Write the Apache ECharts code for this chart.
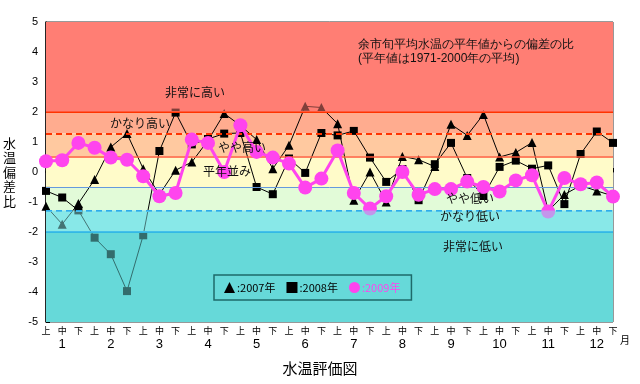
<!DOCTYPE html>
<html><head><meta charset="utf-8">
<script src="https://cdn.jsdelivr.net/npm/echarts@6/dist/echarts.min.js"></script>
<style>html,body{margin:0;padding:0;background:#fff}#c{width:640px;height:384px}</style>
</head><body><div id="c"></div>
<script>
var decades = ['上','中','下'];
var months = ['1','2','3','4','5','6','7','8','9','10','11','12'];
var categories = [];
months.forEach(function(m){ decades.forEach(function(d){ categories.push(m + d); }); });

var values2007 = [-1.14,-1.74,-1.05,-0.25,0.83,1.28,0.11,-0.75,0.06,0.33,1.05,1.95,1.55,1.08,0.11,0.89,2.19,2.15,1.61,-0.94,0.0,-1.0,0.52,0.41,0.18,1.59,1.22,1.92,0.5,0.65,0.98,-1.3,-0.75,-0.45,-0.63,-0.8];
var values2008 = [-0.63,-0.85,-1.28,-2.19,-2.74,-3.97,-2.11,0.7,1.98,0.92,1.1,1.28,1.3,-0.5,-0.74,0.45,-0.03,1.3,1.22,1.37,0.48,-0.33,0.1,-0.94,0.26,0.97,-0.2,-0.8,0.17,0.38,0.11,0.22,-1.07,0.6,1.35,0.97];
var values2009 = [0.36,0.39,0.97,0.81,0.48,0.41,-0.14,-0.81,-0.7,1.08,0.97,0.0,1.56,0.67,0.48,0.28,-0.52,-0.22,0.72,-0.7,-1.22,-0.81,0.0,-0.76,-0.57,-0.57,-0.32,-0.5,-0.65,-0.28,-0.11,-1.32,-0.2,-0.41,-0.35,-0.82];

var seriesNames = ['2007年','2008年','2009年'];
var thresholds = [5, 2, 1.28, 0.52, -0.52, -1.28, -2, -5];
var bandColors = ['#FF7E74','#FFAC8F','#FFC9A0','#FFFBC9','#E2FBD8','#88E8E8','#66D9D9'];
var bandNames = ['非常に高い','かなり高い','やや高い','平年並み','やや低い','かなり低い','非常に低い'];
var overlayIdx = [0, 5, 6];

var F = '"Noto Sans CJK JP", "Noto Sans", sans-serif';

var bandAreas = [];
for (var i = 0; i < bandColors.length; i++) {
  bandAreas.push([{yAxis: thresholds[i + 1], itemStyle: {color: bandColors[i]}}, {yAxis: thresholds[i]}]);
}
var overlayData = overlayIdx.map(function(k){ return [thresholds[k + 1], thresholds[k], k]; });

var lineDefs = [
  {v: thresholds[1], c: '#FF3300', t: 'solid', w: 2},
  {v: thresholds[2], c: '#FF3300', t: [6, 4], w: 2},
  {v: thresholds[3], c: '#FF5A3C', t: 'solid', w: 1.5},
  {v: thresholds[4], c: '#6699DD', t: 'solid', w: 1},
  {v: thresholds[5], c: '#1199EE', t: [6, 4], w: 2},
  {v: thresholds[6], c: '#0099EE', t: 'solid', w: 2}
];
var markLines = lineDefs.map(function(d){
  return {yAxis: d.v, lineStyle: {color: d.c, type: d.t, width: d.w}};
});

var nulls = categories.map(function(){ return null; });

var chart = echarts.init(document.getElementById('c'), null, {renderer: 'canvas'});
chart.setOption({
  animation: false,
  backgroundColor: '#fff',
  textStyle: {fontFamily: F},
  title: {text: '水温評価図', left: 'center', top: 356, textStyle: {fontSize: 15, fontWeight: 'normal', color: '#000', fontFamily: F}},
  grid: {left: 42, right: 27, top: 22, bottom: 62, show: true, borderColor: '#333', borderWidth: 1},
  xAxis: {
    type: 'category', data: categories, boundaryGap: false,
    axisLine: {lineStyle: {color: '#000', width: 1.5}},
    axisTick: {inside: true, length: 4, interval: 0, lineStyle: {color: '#000'}},
    axisLabel: {
      interval: 0, margin: 3, color: '#000',
      formatter: function(v, idx){
        var d = decades[idx % 3];
        var m = (idx % 3 === 1) ? months[Math.floor(idx / 3)] : ' ';
        return '{s|' + d + '}\n{m|' + m + '}';
      },
      rich: {s: {fontSize: 9, lineHeight: 11, fontFamily: F, color: '#000'}, m: {fontSize: 13, lineHeight: 16, fontFamily: 'Liberation Sans, Arial', color: '#000'}}
    },
    splitLine: {show: false}
  },
  yAxis: {
    type: 'value', min: -5, max: 5, interval: 1,
    name: '水\n温\n偏\n差\n比', nameLocation: 'middle', nameGap: 30, nameRotate: 0,
    nameTextStyle: {fontSize: 13, lineHeight: 14.5, color: '#000', fontFamily: F},
    axisLine: {show: true, lineStyle: {color: '#000', width: 1.5}},
    axisTick: {show: true, inside: true, length: 4, lineStyle: {color: '#000'}},
    axisLabel: {fontSize: 11, color: '#000', margin: 8, fontFamily: 'Liberation Sans, Arial'},
    splitLine: {show: false}
  },
  legend: {
    z: 50,
    left: 214, top: 275, orient: 'horizontal', padding: [7, 11, 7, 10],
    itemGap: 11, itemWidth: 11, itemHeight: 11,
    borderColor: '#1E6A6A', borderWidth: 1.5, backgroundColor: 'rgba(0,0,0,0)',
    formatter: function(n){ return ':' + n; },
    textStyle: {fontSize: 11, color: '#000', fontFamily: F, padding: [0, 0, 0, -3]},
    data: [
      {name: seriesNames[0], icon: 'triangle', itemStyle: {color: '#000'}},
      {name: seriesNames[1], icon: 'rect', itemStyle: {color: '#000'}},
      {name: seriesNames[2], icon: 'circle', itemStyle: {color: '#FF44EE'}, textStyle: {color: '#FF44EE'}}
    ]
  },
  graphic: [
    {type: 'text', left: 358, top: 38, z: 100, style: {text: '余市旬平均水温の平年値からの偏差の比\n(平年値は1971-2000年の平均)', fontSize: 12, lineHeight: 14, fill: '#111', font: '12px ' + F}},
    {type: 'text', left: 165, top: 86, z: 100, style: {text: bandNames[0], font: '12px ' + F, fill: '#111'}},
    {type: 'text', left: 110, top: 117, z: 100, style: {text: bandNames[1], font: '12px ' + F, fill: '#111'}},
    {type: 'text', left: 218, top: 141, z: 100, style: {text: bandNames[2], font: '12px ' + F, fill: '#111'}},
    {type: 'text', left: 203, top: 165, z: 100, style: {text: bandNames[3], font: '12px ' + F, fill: '#111'}},
    {type: 'text', left: 446, top: 192, z: 100, style: {text: bandNames[4], font: '12px ' + F, fill: '#111'}},
    {type: 'text', left: 440, top: 210, z: 100, style: {text: bandNames[5], font: '12px ' + F, fill: '#111'}},
    {type: 'text', left: 443, top: 240, z: 100, style: {text: bandNames[6], font: '12px ' + F, fill: '#111'}},
    {type: 'text', left: 620, top: 335, z: 100, style: {text: '月', font: '10px ' + F, fill: '#000'}}
  ],
  series: [
    {name: 'bands', type: 'line', data: nulls, z: 1, silent: true, symbol: 'none',
     markArea: {silent: true, data: bandAreas},
     markLine: {silent: true, symbol: 'none', label: {show: false}, data: markLines}},
    {name: seriesNames[0], type: 'line', data: values2007, z: 3, symbol: 'triangle', symbolSize: 9,
     lineStyle: {color: '#000', width: 1}, itemStyle: {color: '#000'}},
    {name: seriesNames[1], type: 'line', data: values2008, z: 4, symbol: 'rect', symbolSize: 8,
     lineStyle: {color: '#000', width: 1}, itemStyle: {color: '#000'}},
    {name: seriesNames[2], type: 'line', data: values2009, z: 5, symbol: 'circle', symbolSize: 14,
     lineStyle: {color: '#FF44EE', width: 3}, itemStyle: {color: '#FF44EE'}},
    {name: 'overlay', type: 'custom', data: overlayData, z: 8, silent: true,
     renderItem: function(params, api){
       var lo = api.value(0), hi = api.value(1), k = api.value(2);
       var p1 = api.coord([0, hi]);
       var p2 = api.coord([categories.length - 1, lo]);
       return {type: 'rect', shape: {x: p1[0], y: p1[1], width: p2[0] - p1[0], height: p2[1] - p1[1]},
               style: {fill: bandColors[k], opacity: 0.5}};
     }}
  ]
});
</script></body></html>
